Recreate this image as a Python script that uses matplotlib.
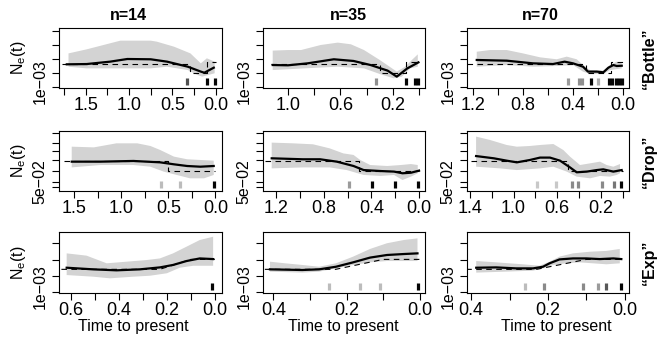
import numpy as np
import matplotlib
matplotlib.use("Agg")
import matplotlib.pyplot as plt

plt.rcParams['font.family'] = ['Liberation Sans', 'DejaVu Sans']
plt.rcParams['mathtext.fontset'] = 'custom'
plt.rcParams['mathtext.rm'] = 'Liberation Sans'
plt.rcParams['mathtext.it'] = 'Liberation Sans:italic'

# ---- data: time to present (t) and log-scale Ne in tick units (v) ----
# row 1: "Bottle"
b14_hi_t = [1.70, 1.49, 1.22, 1.10, 0.75, 0.68, 0.48, 0.29, 0.17, 0.10, 0.01]
b14_hi = [2.40, 2.69, 3.12, 3.31, 3.31, 3.24, 2.88, 2.40, 1.69, 2.05, 1.81]
b14_lo_t = [1.70, 1.49, 1.22, 0.75, 0.56, 0.32, 0.21, 0.155, 0.01]
b14_lo = [1.45, 1.33, 1.33, 1.33, 1.45, 1.21, 0.86, 0.74, 0.98]
b14_est_t = [1.72, 1.49, 1.22, 1.02, 0.75, 0.56, 0.32, 0.17, 0.13, 0.02]
b14_est = [1.62, 1.64, 1.81, 2.00, 1.98, 1.81, 1.45, 1.10, 1.02, 1.38]
b14_samp_t = [0.33, 0.10, 0.01]
b14_samp_w = [0.7, 1.0, 1.0]

b35_hi_t = [1.116, 1.0, 0.90, 0.75, 0.62, 0.52, 0.42, 0.30, 0.17, 0.106, 0.055, 0.01]
b35_hi = [2.60, 2.64, 2.64, 3.00, 3.17, 3.05, 2.64, 1.93, 1.10, 1.45, 1.93, 2.33]
b35_lo_t = [1.116, 0.876, 0.62, 0.42, 0.30, 0.195, 0.131, 0.068, 0.01]
b35_lo = [1.21, 1.33, 1.45, 1.33, 0.93, 0.62, 0.74, 1.33, 1.45]
b35_est_t = [1.116, 1.0, 0.85, 0.65, 0.50, 0.37, 0.24, 0.17, 0.09, 0.005]
b35_est = [1.57, 1.55, 1.69, 1.98, 1.86, 1.57, 1.17, 0.74, 1.33, 1.76]
b35_samp_t = [0.33, 0.098, 0.03, 0.008]
b35_samp_w = [0.45, 1.0, 1.0, 1.0]

b70_hi_t = [1.17, 1.064, 0.93, 0.80, 0.664, 0.53, 0.45, 0.37, 0.32, 0.264, 0.157, 0.104, 0.05, 0.01]
b70_hi = [2.52, 2.64, 2.64, 2.40, 2.12, 1.98, 2.17, 1.98, 1.57, 1.21, 1.17, 1.57, 1.81, 1.69]
b70_lo_t = [1.17, 0.93, 0.717, 0.53, 0.40, 0.32, 0.264, 0.157, 0.104, 0.01]
b70_lo = [1.45, 1.57, 1.45, 1.50, 1.57, 1.10, 0.93, 0.93, 1.21, 1.33]
b70_est_t = [1.17, 0.93, 0.72, 0.56, 0.467, 0.40, 0.32, 0.28, 0.21, 0.157, 0.117, 0.077, 0.05, 0.01]
b70_est = [1.93, 1.88, 1.69, 1.64, 1.81, 1.69, 1.45, 1.10, 1.10, 1.05, 1.38, 1.57, 1.50, 1.52]
b70_samp_t = [0.44, 0.35, 0.325, 0.256, 0.197, 0.11, 0.085, 0.06, 0.035, 0.01]
b70_samp_w = [0.4, 0.45, 0.45, 1.0, 0.33, 1.0, 1.0, 1.0, 1.0, 1.0]

# row 2: "Drop"
d14_hi_t = [1.525, 1.29, 1.05, 0.83, 0.69, 0.585, 0.44, 0.30, 0.16, 0.018]
d14_hi = [2.88, 2.83, 3.12, 3.12, 2.93, 2.64, 2.17, 1.98, 1.93, 1.88]
d14_lo_t = [1.525, 1.22, 0.87, 0.69, 0.55, 0.41, 0.27, 0.12, 0.018]
d14_lo = [1.40, 1.57, 1.57, 1.45, 1.10, 0.86, 0.62, 0.62, 0.86]
d14_est_t = [1.525, 1.22, 0.87, 0.585, 0.44, 0.30, 0.16, 0.018]
d14_est = [1.81, 1.81, 1.86, 1.76, 1.62, 1.50, 1.45, 1.50]
d14_samp_t = [0.58, 0.375, 0.01]
d14_samp_w = [0.27, 0.27, 1.0]

d35_hi_t = [1.237, 1.06, 0.89, 0.75, 0.636, 0.55, 0.494, 0.41, 0.267, 0.153, 0.068, 0.011]
d35_hi = [3.17, 3.12, 3.05, 2.76, 2.40, 2.29, 1.93, 1.57, 1.50, 1.57, 1.64, 1.57]
d35_lo_t = [1.237, 0.976, 0.75, 0.607, 0.465, 0.323, 0.21, 0.139, 0.068, 0.011]
d35_lo = [1.33, 1.40, 1.40, 1.21, 0.86, 0.79, 0.86, 0.50, 0.74, 0.98]
d35_est_t = [1.237, 0.976, 0.83, 0.69, 0.55, 0.465, 0.323, 0.21, 0.139, 0.068, 0.0]
d35_est = [2.05, 1.98, 1.98, 1.81, 1.50, 1.21, 1.14, 1.10, 0.98, 1.02, 1.17]
d35_samp_t = [0.59, 0.394, 0.20, 0.005]
d35_samp_w = [0.4, 1.0, 1.0, 1.0]

d70_hi_t = [1.342, 1.215, 1.062, 0.97, 0.85, 0.758, 0.636, 0.545, 0.484, 0.393, 0.30, 0.21, 0.149, 0.088, 0.027]
d70_hi = [3.60, 3.36, 3.00, 2.88, 2.93, 3.00, 3.07, 2.64, 2.17, 1.57, 1.69, 1.81, 1.57, 1.45, 1.64]
d70_lo_t = [1.342, 1.123, 0.97, 0.758, 0.636, 0.514, 0.423, 0.30, 0.21, 0.119, 0.058, 0.027]
d70_lo = [1.45, 1.33, 1.21, 1.33, 1.45, 1.10, 0.74, 0.62, 0.79, 0.74, 0.86, 0.98]
d70_est_t = [1.342, 1.18, 1.062, 0.97, 0.85, 0.758, 0.667, 0.575, 0.484, 0.423, 0.33, 0.24, 0.18, 0.088, 0.012]
d70_est = [2.21, 2.05, 1.88, 1.76, 1.93, 2.10, 2.10, 1.88, 1.40, 1.05, 1.10, 1.21, 1.26, 1.10, 1.21]
d70_samp_t = [0.785, 0.61, 0.47, 0.41, 0.19, 0.085, 0.018]
d70_samp_w = [0.22, 0.22, 0.47, 0.47, 0.47, 0.55, 1.0]

# row 3: "Exp"
e14_hi_t = [0.618, 0.535, 0.451, 0.368, 0.285, 0.229, 0.174, 0.118, 0.0625, 0.007]
e14_hi = [2.37, 2.23, 1.76, 1.86, 1.96, 2.06, 2.37, 2.78, 3.19, 3.39]
e14_lo_t = [0.618, 0.507, 0.4375, 0.34, 0.27, 0.20, 0.146, 0.09, 0.049, 0.007]
e14_lo = [1.04, 0.94, 0.84, 0.94, 1.00, 1.15, 1.49, 1.61, 1.61, 1.61]
e14_est_t = [0.618, 0.507, 0.41, 0.313, 0.229, 0.174, 0.118, 0.0625, 0.007]
e14_est = [1.49, 1.39, 1.33, 1.39, 1.51, 1.66, 1.90, 2.06, 2.02]
e14_samp_t = [0.01]
e14_samp_w = [1.0]

e35_hi_t = [0.409, 0.3676, 0.321, 0.275, 0.229, 0.182, 0.136, 0.0898, 0.0435, 0.0065]
e35_hi = [1.86, 1.76, 1.66, 1.55, 1.76, 2.17, 2.64, 2.99, 3.19, 3.29]
e35_lo_t = [0.409, 0.321, 0.275, 0.229, 0.182, 0.136, 0.0898, 0.0435, 0.0065]
e35_lo = [1.25, 1.19, 1.25, 1.45, 1.66, 1.82, 1.90, 1.90, 1.90]
e35_est_t = [0.409, 0.321, 0.275, 0.229, 0.182, 0.136, 0.0898, 0.0435, 0.0065]
e35_est = [1.39, 1.35, 1.39, 1.55, 1.82, 2.11, 2.27, 2.33, 2.37]
e35_samp_t = [0.249, 0.164, 0.11, 0.004]
e35_samp_w = [0.27, 0.27, 0.27, 1.0]

e70_hi_t = [0.387, 0.335, 0.266, 0.222, 0.196, 0.17, 0.135, 0.0914, 0.048, 0.013]
e70_hi = [1.90, 1.82, 1.70, 1.61, 1.86, 2.17, 2.37, 2.47, 2.52, 2.64]
e70_lo_t = [0.387, 0.309, 0.239, 0.213, 0.187, 0.152, 0.1175, 0.083, 0.048, 0.013]
e70_lo = [1.19, 1.25, 1.31, 1.45, 1.66, 1.76, 1.82, 1.76, 1.70, 1.76]
e70_est_t = [0.387, 0.335, 0.283, 0.239, 0.213, 0.196, 0.17, 0.135, 0.1, 0.065, 0.03, 0.009]
e70_est = [1.49, 1.51, 1.45, 1.45, 1.55, 1.76, 2.00, 2.06, 2.06, 2.02, 2.06, 2.02]
e70_samp_t = [0.26, 0.21, 0.11, 0.07, 0.05, 0.01]
e70_samp_w = [0.27, 0.47, 0.47, 0.4, 0.67, 1.0]

# true trajectories (dashed): breakpoints and levels
bottle_true_t = [0.3, 0.3, 0.1, 0.1, 0.0]
bottle_true = [1.67, 1.0, 1.0, 1.76, 1.76]
drop_true_t = [0.5, 0.5, 0.0]
drop_true = [1.88, 1.14, 1.14]
exp_true_t = [0.23, 0.1, 0.0]
exp_true = [1.39, 2.0, 2.0]
true_start = [[1.77, 1.13, 1.245], [1.61, 1.29, 1.39], [0.64, 0.423, 0.413]]
true_start_v = [1.67, 1.88, 1.39]

sizes = ["n=14", "n=35", "n=70"]
scenarios = ["\u201cBottle\u201d", "\u201cDrop\u201d", "\u201cExp\u201d"]
row_ticks = [[0, 1, 2, 3, 4],
             [0, 0.36, 1.14, 1.93, 2.57, 3.14, 3.86],
             [0, 0.98, 1.96, 3.0]]
row_label = ["1e\u221203", "5e\u221202", "1e\u221203"]

panels = [
    [(b14_hi_t, b14_hi, b14_lo_t, b14_lo, b14_est_t, b14_est, b14_samp_t, b14_samp_w),
     (b35_hi_t, b35_hi, b35_lo_t, b35_lo, b35_est_t, b35_est, b35_samp_t, b35_samp_w),
     (b70_hi_t, b70_hi, b70_lo_t, b70_lo, b70_est_t, b70_est, b70_samp_t, b70_samp_w)],
    [(d14_hi_t, d14_hi, d14_lo_t, d14_lo, d14_est_t, d14_est, d14_samp_t, d14_samp_w),
     (d35_hi_t, d35_hi, d35_lo_t, d35_lo, d35_est_t, d35_est, d35_samp_t, d35_samp_w),
     (d70_hi_t, d70_hi, d70_lo_t, d70_lo, d70_est_t, d70_est, d70_samp_t, d70_samp_w)],
    [(e14_hi_t, e14_hi, e14_lo_t, e14_lo, e14_est_t, e14_est, e14_samp_t, e14_samp_w),
     (e35_hi_t, e35_hi, e35_lo_t, e35_lo, e35_est_t, e35_est, e35_samp_t, e35_samp_w),
     (e70_hi_t, e70_hi, e70_lo_t, e70_lo, e70_est_t, e70_est, e70_samp_t, e70_samp_w)],
]
true_lines = [(bottle_true_t, bottle_true), (drop_true_t, drop_true), (exp_true_t, exp_true)]

# x axis setup per panel: (xmax, xmin, tick step, label every)
xsetup = [[(1.81, -0.075, 0.25, 2), (1.19, -0.045, 0.2, 2), (1.248, -0.048, 0.2, 2)],
          [(1.66, -0.07, 0.25, 2), (1.31, -0.05, 0.2, 2), (1.425, -0.055, 0.2, 2)],
          [(0.65, -0.03, 0.1, 2), (0.428, -0.014, 0.1, 2), (0.411, -0.011, 0.1, 2)]]
label_offset = [[0, 1, 0], [0, 0, 1], [0, 0, 0]]
ylims = [(-0.071, 4.214), (-0.286, 4.0), (-0.06, 3.68)]

# ---- layout in pixels ----
W, H = 662, 345
col_x = [(59, 163), (263, 162), (467, 162)]
row_y = [(28, 60), (131, 60), (232, 61)]
title_x = [128.5, 348, 540]
xlab_x = [133, 343, 556]

fig = plt.figure(figsize=(W / 100, H / 100), dpi=100)
fs = 11.5

for r in range(3):
    for c in range(3):
        x0, w = col_x[c]
        y0, h = row_y[r]
        ax = fig.add_axes([x0 / W, 1 - (y0 + h) / H, w / W, h / H])
        hi_t, hi, lo_t, lo, est_t, est, s_t, s_w = panels[r][c]
        ax.fill(np.r_[hi_t, lo_t[::-1]], np.r_[hi, lo[::-1]], color='#d3d3d3', lw=0, zorder=1)
        tt, tv = true_lines[r]
        ax.plot(np.r_[true_start[r][c], tt], np.r_[true_start_v[r], tv], color='black',
                lw=0.8, dashes=(5, 4), zorder=2)
        ax.plot(est_t, est, color='black', lw=1.6, zorder=3)
        for st, sw in zip(s_t, s_w):
            g = 1 - sw * 0.98
            ax.axvline(st, 0.05, 0.16, color=(g, g, g), lw=2.3, solid_capstyle='butt', zorder=4)

        xmax, xmin, step, every = xsetup[r][c]
        ax.set_xlim(xmax, xmin)
        ticks = np.round(np.arange(0, xmax + 1e-9, step), 3)
        ax.set_xticks(ticks)
        lab = []
        for i, tk in enumerate(ticks):
            if (i + label_offset[r][c]) % every == 0:
                lab.append(f"{tk:.1f}")
            else:
                lab.append("")
        ax.set_xticklabels(lab)
        ax.set_ylim(*ylims[r])
        ax.set_yticks(row_ticks[r])
        ax.set_yticklabels([])
        ax.tick_params(direction='out', length=5, width=0.8, labelsize=13, pad=1.5)
        for sp in ax.spines.values():
            sp.set_linewidth(0.8)
        ax.annotate(row_label[r], xy=(0, 0), xycoords=('axes fraction', 'data'),
                    xytext=(-13.7, 3.6), textcoords='offset points', rotation=90,
                    ha='center', va='center', fontsize=fs)
        if r == 2:
            fig.text(xlab_x[c] / W, 1 - 327 / H, "Time to present", ha='center',
                     va='center', fontsize=fs)

    fig.text(18 / W, 1 - (row_y[r][0] + row_y[r][1] / 2) / H, r'$\mathrm{N_e(t)}$',
             rotation=90, ha='center', va='center', fontsize=fs)
    fig.text(649 / W, 1 - (row_y[r][0] + row_y[r][1] / 2) / H, scenarios[r], rotation=90,
             ha='center', va='center', fontsize=fs, fontweight='bold')

for c in range(3):
    fig.text(title_x[c] / W, 1 - 16 / H, sizes[c], ha='center', va='center', fontsize=fs,
             fontweight='bold')

fig.savefig("out.png", dpi=100)
